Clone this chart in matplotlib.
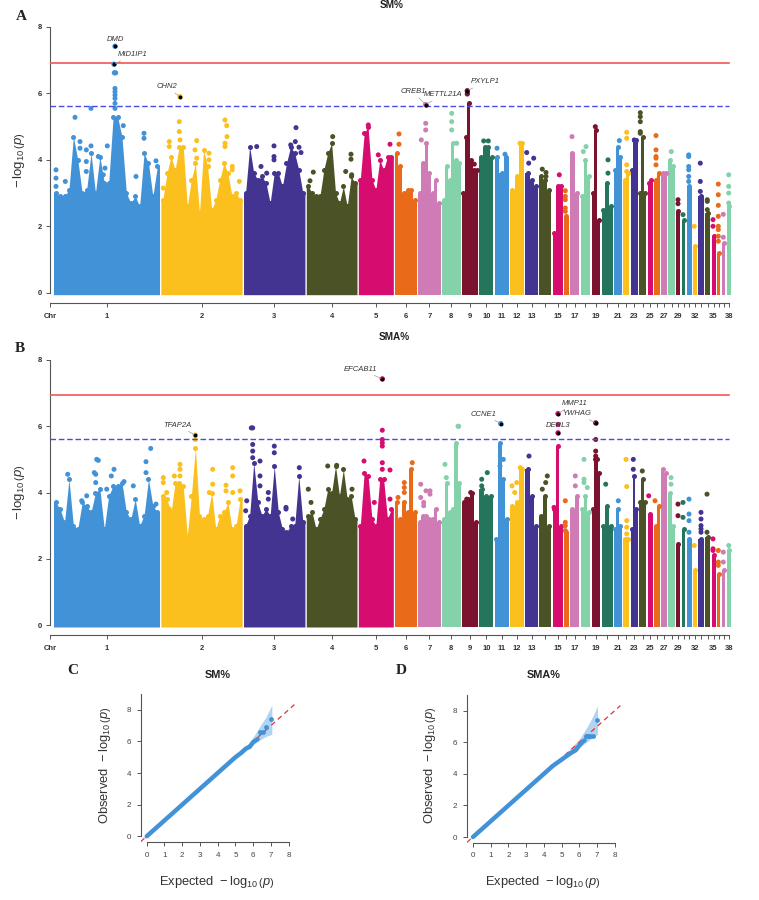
import matplotlib
matplotlib.use("Agg")
import matplotlib.pyplot as plt
import numpy as np

plt.rcParams["font.family"] = ["Liberation Sans", "DejaVu Sans"]
plt.rcParams["mathtext.fontset"] = "custom"
plt.rcParams["mathtext.rm"] = "Liberation Sans"
plt.rcParams["mathtext.it"] = "Liberation Sans:italic"

# chromosome lengths in plot units, palette repeats every ten chromosomes
chr_len = [106, 81.3, 61.4, 50.7, 35, 22, 22.6, 18.6, 16, 14, 14, 14, 12.7, 11.7, 10, 4.7, 9.3, 9.6, 8.6,
           11, 7.7, 6.3, 7, 7.3, 5, 6, 5.6, 6.7, 4, 3.7, 5, 3.6, 6, 4.7, 4, 3.6, 3.6, 4.3]
palette = ["#4292d8", "#fbc01e", "#433492", "#4b5226", "#d60d6e", "#e96a18", "#cf7cb6", "#84d2aa", "#7c132e", "#24755b"]
tick_names = ["1", "2", "3", "4", "5", "6", "7", "8", "9", "10", "11", "12", "13", "", "15", "", "17", "", "19", "",
              "21", "", "23", "", "25", "", "27", "", "29", "", "", "32", "", "", "35", "", "", "38"]

red_line = 6.93
blue_line = 5.63

# upper edge of the point cloud along each chromosome, SM%
sm1 = [3.0, 2.9, 2.9, 3.1, 4.7, 4.0, 3.0, 3.1, 4.2, 3.0, 4.1, 3.3, 3.3, 5.3, 5.3, 4.7, 3.0, 2.7, 2.9, 2.6, 4.2, 3.9, 2.9, 3.8]
sm2 = [2.8, 3.6, 4.1, 3.7, 4.4, 4.4, 2.6, 3.4, 3.9, 2.4, 4.3, 3.8, 2.5, 2.8, 3.4, 3.9, 3.6, 2.9, 3.0, 2.8]
sm3 = [3.0, 4.4, 3.6, 3.4, 3.5, 3.3, 2.7, 3.6, 3.6, 3.2, 3.9, 4.4, 4.2, 3.7, 3.0]
sm4 = [3.2, 3.0, 2.9, 2.9, 3.7, 4.2, 4.5, 3.0, 2.7, 3.2, 2.6, 3.5, 3.3]
sm5 = [3.4, 4.8, 5.0, 3.4, 3.1, 4.0, 3.7, 4.1, 4.1]
sm6 = [4.2, 3.8, 3.0, 3.1, 3.1, 2.8]
sm7 = [3.0, 3.9, 4.5, 3.6, 3.0, 3.4, 2.7]
sm8 = [2.8, 3.8, 3.4, 4.5, 4.0, 3.9]
sm9 = [3.0, 4.7, 5.7, 4.0, 3.7, 3.7]
sm10 = [4.1, 4.4, 4.4, 4.1]
sm11 = [4.1, 3.6, 4.1]
sm12 = [3.1, 3.5, 4.5]
sm13 = [3.6, 3.4, 3.2]
sm14 = [3.5, 3.4, 3.1]
sm15 = [1.8, 3.2, 3.2]
sm16 = [2.3]
sm17 = [4.2, 3.0]
sm18 = [2.9, 4.0, 3.5]
sm19 = [3.0, 4.9, 2.2]
sm20 = [2.5, 3.3, 2.6]
sm21 = [3.7, 4.4, 4.1]
sm22 = [3.4, 3.6]
sm23 = [3.7, 4.6, 4.6]
sm24 = [3.0, 4.7, 3.0]
sm25 = [3.3, 3.4]
sm26 = [3.4, 3.6]
sm27 = [3.6, 3.6]
sm28 = [4.0, 3.8]
sm29 = [2.45]
sm30 = [2.2]
sm31 = [3.2]
sm32 = [1.4]
sm33 = [2.9]
sm34 = [2.4]
sm35 = [1.7]
sm36 = [1.2]
sm37 = [1.5]
sm38 = [2.6]

# same for SMA%
sma1 = [3.7, 3.5, 3.1, 4.4, 3.0, 2.9, 3.7, 3.6, 3.4, 4.0, 4.1, 2.9, 3.9, 4.2, 4.2, 4.3, 3.4, 3.2, 3.8, 3.0, 3.3, 4.4, 3.6, 3.4]
sma2 = [3.9, 3.8, 3.4, 4.3, 4.3, 4.2, 2.7, 3.9, 5.35, 3.3, 3.2, 3.3, 4.0, 2.9, 3.3, 3.4, 3.7, 2.9, 3.0, 3.8]
sma3 = [3.0, 3.3, 4.9, 3.7, 3.3, 3.5, 3.3, 4.8, 3.4, 2.9, 2.8, 3.0, 3.0, 4.5, 3.1]
sma4 = [3.3, 3.4, 2.9, 3.2, 3.5, 4.1, 4.0, 4.8, 3.9, 4.7, 3.8, 3.9, 3.2]
sma5 = [3.0, 4.6, 4.5, 3.2, 3.0, 4.4, 4.4, 3.2, 3.5]
sma6 = [3.7, 3.2, 3.7, 3.4, 4.7, 3.4]
sma7 = [3.1, 3.3, 3.3, 3.2, 3.2, 3.5, 3.1]
sma8 = [3.2, 4.3, 3.4, 3.5, 5.5, 4.3]
sma9 = [3.7, 3.8, 4.0, 3.1]
sma10 = [4.1, 3.9, 3.9]
sma11 = [2.6, 5.5, 4.4, 3.2]
sma12 = [3.6, 3.7, 4.7]
sma13 = [4.7, 3.9, 3.0]
sma14 = [3.3, 3.9, 3.0]
sma15 = [3.5, 5.4, 3.0]
sma16 = [2.8]
sma17 = [3.5, 3.9]
sma18 = [3.5, 3.9, 3.4]
sma19 = [3.5, 5.0, 5.0, 4.6]
sma20 = [3.0, 3.6, 3.0]
sma21 = [2.9, 3.5, 3.0]
sma22 = [2.6, 2.6]
sma23 = [2.9, 4.5, 3.5]
sma24 = [3.7, 4.4, 3.7]
sma25 = [3.35]
sma26 = [3.0, 3.6]
sma27 = [4.7, 4.6]
sma28 = [4.0, 3.0]
sma29 = [2.45]
sma30 = [2.9]
sma31 = [2.6]
sma32 = [1.65]
sma33 = [2.6]
sma34 = [2.65]
sma35 = [2.1]
sma36 = [1.55]
sma37 = [1.65]
sma38 = [2.25]

# single points standing above the cloud: genome position, value
sm_pos = [5.5, 5.5, 5.5, 14.8, 24.5, 29.5, 29.5, 35.8, 35.8, 35.8, 40.5, 40.5, 47.8, 56.8, 54.5, 52.8,
          64.5, 64.5, 64.5, 64.5, 64.5, 64.5, 64.5, 63.8, 65.2, 72.8, 93.5, 93.5, 105.5, 85.5,
          112.8, 118.8, 118.8, 128.8, 128.8, 129.5, 144.5, 146.2, 146.2, 158.5, 158.5, 174.5, 176.2, 176.5, 174.5, 174.5,
          181.8, 181.8, 188.8, 245.5, 223.5, 223.5, 223.5, 240.2, 244.8, 248.5, 250.5, 206.2, 210.5, 216.2,
          282.2, 262.8, 259.5, 300.5, 300.5, 295.2, 301.2, 317.8, 327.8, 339.5, 348.5, 348.5, 375.2, 375.2, 370.8,
          401.2, 401.2, 401.2, 406.2, 416.8, 416.8, 423.8, 433.2, 437.8, 446.5, 454.5, 469.5, 476.2, 478.2, 483.2,
          491.8, 495.5, 495.5, 508.8, 514.8, 514.8, 514.8, 514.8, 514.8, 521.5, 532.8, 535.5, 544.8, 557.5, 557.5,
          568.8, 576.2, 576.2, 576.2, 576.2, 583.8, 589.8, 589.8, 589.8, 589.8, 589.8,
          605.5, 605.5, 605.5, 605.5, 605.5, 620.8, 627.5, 627.5, 632.5,
          638.2, 638.2, 638.2, 638.2, 638.2, 638.2, 643.8, 649.8, 649.8, 649.8, 656.8, 656.8, 656.8, 662.5, 662.5,
          667.8, 667.8, 667.8, 667.8, 667.8, 667.8, 667.8, 667.8, 672.8, 672.8, 678.2, 678.2, 678.2, 678.2]
sm_val = [3.7, 3.45, 3.2, 3.35, 5.28, 4.55, 4.35, 4.3, 3.95, 3.65, 5.55, 4.42, 4.1, 4.42, 3.75, 3.55,
          6.62, 6.15, 6.05, 5.95, 5.85, 5.7, 5.55, 6.62, 6.62, 5.03, 4.8, 4.65, 3.97, 3.5,
          3.15, 4.55, 4.4, 5.15, 4.85, 4.6, 4.3, 4.58, 4.05, 4.2, 4.0, 5.2, 5.03, 4.7, 4.5, 4.4,
          3.8, 3.7, 3.35, 4.97, 4.42, 4.1, 4.0, 4.45, 4.55, 4.38, 4.22, 4.4, 3.8, 3.6,
          4.7, 3.63, 3.37, 4.17, 4.02, 3.65, 3.55, 5.05, 4.15, 4.47, 4.78, 4.47, 5.1, 4.9, 4.6,
          5.4, 5.15, 4.9, 4.5, 6.0, 5.98, 3.87, 4.57, 4.57, 4.35, 4.17, 4.5, 4.22, 3.9, 4.05,
          3.72, 3.62, 3.5, 3.55, 3.07, 2.9, 2.8, 2.55, 2.45, 4.7, 4.25, 4.4, 5.0, 4.0, 3.6,
          4.58, 4.83, 4.65, 3.85, 3.65, 4.6, 5.42, 5.3, 5.15, 4.85, 4.8,
          4.73, 4.3, 4.1, 4.05, 3.85, 4.25, 2.8, 2.68, 2.35,
          4.15, 4.1, 3.8, 3.7, 3.5, 3.35, 2.0, 3.9, 3.35, 3.05, 2.8, 2.75, 2.5, 2.2, 2.0,
          3.27, 2.95, 2.63, 2.3, 2.0, 1.9, 1.7, 1.55, 2.36, 1.67, 3.55, 3.2, 3.0, 2.7]

sma_pos = [46.2, 47.8, 43.8, 45.2, 45.2, 63.5, 60.8, 73.5, 82.8, 95.5, 95.5, 100.2, 17.2, 56.2, 105.5, 31.2, 36.2,
           112.8, 112.8, 116.2, 123.8, 129.5, 129.5, 129.5, 162.2, 162.2, 158.8, 182.2, 182.2, 182.2, 189.5, 175.5, 175.5,
           144.8, 118.8, 200.8, 202.2, 202.2, 202.2, 202.2, 209.5, 209.5, 209.5, 217.8, 217.8, 223.8, 223.8, 235.5, 235.5,
           242.2, 248.8, 196.2, 195.2, 257.8, 277.2, 286.2, 301.5, 260.5, 313.5, 323.8,
           331.8, 331.8, 331.8, 331.8, 331.8, 331.8, 339.5, 339.5, 347.5, 353.8, 353.8, 353.8, 361.8,
           370.2, 370.2, 375.5, 379.5, 379.5, 373.2, 373.2, 394.5, 407.5, 408.2, 395.8, 416.2, 420.2,
           431.2, 431.2, 436.8, 452.8, 449.5, 461.5, 466.2, 469.8, 464.2, 478.5, 491.8, 495.2, 496.8, 507.5, 503.5,
           514.8, 514.8, 514.8, 514.8, 524.8, 524.8, 533.5, 533.5, 533.5, 536.8, 545.2, 545.2, 545.2, 555.2, 567.8,
           575.5, 576.2, 576.2, 576.2, 576.2, 582.8, 582.8, 591.8, 598.2, 604.5, 620.5, 620.5, 627.5, 627.5, 632.5, 632.5,
           638.5, 638.5, 638.5, 638.5, 643.8, 650.5, 650.5, 650.5, 650.5, 650.5, 656.5, 656.5,
           662.5, 662.5, 662.5, 667.8, 667.8, 667.8, 672.8, 672.8, 678.2]
sma_val = [5.0, 4.97, 4.6, 4.55, 4.3, 4.7, 4.5, 4.33, 4.2, 4.93, 4.6, 5.33, 4.55, 4.1, 3.65, 3.75, 3.9,
           4.45, 4.3, 4.0, 4.5, 4.85, 4.7, 4.5, 4.7, 4.25, 4.0, 4.75, 4.5, 4.0, 4.05, 4.22, 4.05,
           5.6, 3.5, 5.95, 5.95, 5.45, 5.25, 5.05, 4.95, 4.5, 4.2, 4.0, 3.8, 5.4, 5.2, 3.55, 3.5,
           3.2, 4.75, 3.75, 3.45, 4.1, 4.8, 4.82, 4.1, 3.7, 4.95, 3.7,
           5.88, 5.6, 5.5, 5.4, 4.9, 4.7, 4.68, 3.8, 3.85, 4.3, 4.15, 4.0, 4.9,
           4.25, 3.85, 4.05, 4.05, 3.95, 3.7, 3.6, 4.85, 6.0, 6.0, 4.45, 3.8, 4.0,
           4.4, 4.2, 4.6, 5.0, 4.8, 4.2, 4.3, 4.75, 4.0, 5.1, 4.1, 4.3, 4.5, 6.05, 3.55,
           3.75, 3.1, 3.0, 2.85, 4.5, 4.2, 5.0, 4.4, 4.3, 4.15, 5.6, 5.25, 5.1, 4.25, 3.75,
           5.0, 4.18, 3.15, 2.95, 2.75, 5.0, 4.7, 4.65, 3.9, 3.75, 4.45, 4.25, 3.65, 3.3, 3.7, 3.25,
           3.8, 3.35, 3.15, 2.8, 2.4, 3.4, 3.2, 3.0, 2.9, 2.8, 3.95, 2.8,
           2.6, 2.3, 2.25, 2.25, 1.9, 1.8, 2.2, 1.9, 2.4]

# named genes
sm_genes = ["DMD", "MID1IP1", "CHN2", "CREB1", "METTL21A", "PXYLP1"]
sm_gene_pos = [64.5, 63.5, 129.5, 375.2, 375.2, 416.8]
sm_gene_val = [7.42, 6.88, 5.9, 5.66, 5.66, 6.08]
sm_gene_off = [(0, 6.7, False), (19, 9.5, True), (-13.5, 10, True), (-12.7, 13, True), (17.3, 10, True), (17.7, 9, True)]

sma_genes = ["EFCAB11", "TFAP2A", "CCNE1", "MMP11", "YWHAG", "DERL3"]
sma_gene_pos = [331.8, 144.8, 450.2, 507.5, 545.2, 507.5]
sma_gene_val = [7.43, 5.73, 6.08, 6.38, 6.1, 5.8]
sma_gene_off = [(-22.3, 9.7, True), (-18, 10, True), (-17, 9.5, True), (16.7, 10.5, True), (-18.7, 9.5, True), (0, 7.3, False)]

# QQ curves
qq_sm_exp = [0, 0.5, 1, 1.5, 2, 2.5, 3, 3.5, 4, 4.5, 5, 5.3, 5.6, 5.8, 6.0, 6.2, 6.25]
qq_sm_obs = [0, 0.5, 1, 1.5, 2, 2.5, 3, 3.5, 4, 4.5, 5, 5.25, 5.55, 5.65, 5.95, 6.1, 6.15]
qq_sm_tail_exp = [6.4, 6.55, 6.7, 7.0]
qq_sm_tail_obs = [6.62, 6.62, 6.88, 7.42]
band_sm_exp = [5.4, 5.8, 6.1, 6.4, 6.7, 7.05]
band_sm_up = [5.45, 5.95, 6.45, 7.0, 7.5, 8.3]
band_sm_lo = [5.35, 5.65, 5.9, 6.1, 6.3, 6.45]

qq_sma_exp = [0, 0.5, 1, 1.5, 2, 2.5, 3, 3.5, 4, 4.5, 5, 5.5, 5.8, 6.0, 6.2, 6.3]
qq_sma_obs = [0, 0.5, 1, 1.5, 2, 2.5, 3, 3.5, 4, 4.5, 4.9, 5.3, 5.5, 5.8, 6.05, 6.12]
qq_sma_tail_exp = [6.4, 6.5, 6.6, 6.75, 7.0]
qq_sma_tail_obs = [6.38, 6.38, 6.38, 6.38, 7.43]
band_sma_exp = [5.3, 5.7, 6.03, 6.4, 6.7, 7.03]
band_sma_up = [5.35, 5.85, 6.25, 6.9, 7.5, 8.3]
band_sma_lo = [5.25, 5.45, 5.7, 6.0, 6.25, 6.5]

sm_tops = [sm1, sm2, sm3, sm4, sm5, sm6, sm7, sm8, sm9, sm10, sm11, sm12, sm13, sm14, sm15, sm16, sm17, sm18, sm19,
           sm20, sm21, sm22, sm23, sm24, sm25, sm26, sm27, sm28, sm29, sm30, sm31, sm32, sm33, sm34, sm35, sm36, sm37, sm38]
sma_tops = [sma1, sma2, sma3, sma4, sma5, sma6, sma7, sma8, sma9, sma10, sma11, sma12, sma13, sma14, sma15, sma16,
            sma17, sma18, sma19, sma20, sma21, sma22, sma23, sma24, sma25, sma26, sma27, sma28, sma29, sma30, sma31,
            sma32, sma33, sma34, sma35, sma36, sma37, sma38]

W, H = 759, 900
fig = plt.figure(figsize=(W / 100, H / 100), dpi=100)
lengths = np.array(chr_len)
starts = 3 + np.concatenate([[0], np.cumsum(lengths[:-1] + 1.36)])
centres = starts + lengths / 2
axis_col = "#555555"


def px_axes(left, right, top, bottom):
    return fig.add_axes([left / W, 1 - bottom / H, (right - left) / W, (bottom - top) / H])


def manhattan(y0_px, y8_px, axis_px, tops, pos, val, genes, gene_pos, gene_val, gene_off):
    unit = (y0_px - y8_px) / 8
    top_px = y8_px - 6
    ax = px_axes(50.5, 740, top_px, axis_px)
    ax.set_xlim(0, 689.5)
    ax.set_ylim((y0_px - axis_px) / unit, (y0_px - top_px) / unit)
    for i, t in enumerate(tops):
        col = palette[i % 10]
        n = len(t)
        bw = lengths[i] / n
        xs = starts[i] + bw * (np.arange(n) + 0.5)
        t = np.array(t)
        if i < 5:
            # big chromosomes: outline runs through the tops, flat out to the ends
            edge_x = np.concatenate([[starts[i]], xs, [starts[i] + lengths[i]]])
            edge_y = np.concatenate([[t[0]], t, [t[-1]]])
            ax.fill_between(edge_x, -0.06, edge_y, color=col, linewidth=0, zorder=1)
        else:
            # small ones read as columns
            ax.bar(xs, t + 0.06, width=bw, bottom=-0.06, color=col, linewidth=0, zorder=1)
        ax.scatter(xs, t, s=13, color=col, linewidths=0, zorder=2)
    pos = np.array(pos)
    owner = np.searchsorted(starts, pos) - 1
    ax.scatter(pos, val, s=13, c=[palette[k % 10] for k in owner], linewidths=0, zorder=2)
    end = centres[-1]
    ax.plot([0, end], [red_line, red_line], color="#f25555", lw=1.2, zorder=3)
    ax.plot([0, end], [blue_line, blue_line], color="#4a4ae6", lw=1.0, ls=(0, (4, 2)), zorder=3)
    # highlighted genes
    gene_pos = np.array(gene_pos)
    owner = np.searchsorted(starts, gene_pos) - 1
    ax.scatter(gene_pos, gene_val, s=15, c=[palette[k % 10] for k in owner], linewidths=0, zorder=4)
    ax.scatter(gene_pos, gene_val, s=8, color="black", linewidths=0, zorder=5)
    for g, x, y, off in zip(genes, gene_pos, gene_val, gene_off):
        arrow = dict(arrowstyle="-", color="#999999", lw=0.5, shrinkA=0, shrinkB=1) if off[2] else None
        ax.annotate(g, xy=(x, y), xytext=(off[0], off[1]), textcoords="offset pixels", fontsize=5.5, style="italic",
                    color="#333333", ha="center", va="center", arrowprops=arrow, zorder=6)
    for s in ["top", "right"]:
        ax.spines[s].set_visible(False)
    ax.spines["left"].set_bounds(0, 8)
    ax.spines["bottom"].set_bounds(0, end)
    for s in ["left", "bottom"]:
        ax.spines[s].set_color(axis_col)
        ax.spines[s].set_linewidth(0.8)
    ax.set_yticks([0, 2, 4, 6, 8])
    ax.set_xticks(np.concatenate([[0], centres]))
    ax.set_xticklabels(["Chr"] + tick_names)
    ax.tick_params(axis="both", length=3, width=0.7, color=axis_col, labelsize=5.5, labelcolor="#333333", pad=4)
    ax.tick_params(axis="y", pad=3)
    for lb in ax.get_xticklabels() + ax.get_yticklabels():
        lb.set_fontweight("bold")
    fig.text(19 / W, 1 - (y0_px + y8_px) / 2 / H, r"$-\,\log_{10}\left(p\right)$", rotation=90, fontsize=9.5,
             color="#333333", ha="center", va="center")
    return ax


def qq(x0, x8, y0, y8, spine_x, spine_y, exp, obs, tail_exp, tail_obs, band_x, band_up, band_lo, title, title_x, lab_x, ylab_x):
    ux = (x8 - x0) / 8
    uy = (y0 - y8) / 8
    ax = px_axes(spine_x, x8 + 10, y8 - 20, spine_y)
    ax.set_xlim((spine_x - x0) / ux, (x8 + 10 - x0) / ux)
    ax.set_ylim((y0 - spine_y) / uy, (y0 - y8 + 20) / uy)
    ax.fill_between(band_x, band_lo, band_up, color="#a9d0f0", linewidth=0, alpha=0.9, zorder=1)
    ax.plot([-0.34, 8.32], [-0.34, 8.32], color="#e0323c", lw=0.9, ls=(0, (4, 3)), zorder=2)
    ax.plot(exp, obs, color="#4292d8", lw=3.2, solid_capstyle="round", zorder=3)
    ax.scatter(tail_exp, tail_obs, s=12, color="#4292d8", linewidths=0, zorder=3)
    for s in ["top", "right"]:
        ax.spines[s].set_visible(False)
    ax.spines["left"].set_bounds(0, 9)
    ax.spines["bottom"].set_bounds(0, 8)
    for s in ["left", "bottom"]:
        ax.spines[s].set_color("#555555")
        ax.spines[s].set_linewidth(0.8)
    ax.set_xticks(range(9))
    ax.set_yticks([0, 2, 4, 6, 8])
    ax.tick_params(axis="both", length=3, width=0.7, color="#555555", labelsize=5.8, labelcolor="#444444", pad=4)
    fig.text(title_x / W, 1 - 674.5 / H, title, fontsize=7.8, fontweight="bold", color="#222222", ha="center", va="center")
    fig.text(lab_x / W, 1 - 882 / H, r"Expected  $-\,\log_{10}\left(p\right)$", fontsize=9.3, color="#333333", ha="center", va="center")
    fig.text(ylab_x / W, 1 - 765 / H, r"Observed  $-\,\log_{10}\left(p\right)$", fontsize=9.3, color="#333333", rotation=90,
             ha="center", va="center")


manhattan(292.7, 27, 303, sm_tops, sm_pos, sm_val, sm_genes, sm_gene_pos, sm_gene_val, sm_gene_off)
manhattan(625, 360, 635, sma_tops, sma_pos, sma_val, sma_genes, sma_gene_pos, sma_gene_val, sma_gene_off)
qq(146.7, 288.7, 836.3, 709.7, 140.7, 842.3, qq_sm_exp, qq_sm_obs, qq_sm_tail_exp, qq_sm_tail_obs,
   band_sm_exp, band_sm_up, band_sm_lo, "SM%", 218, 217, 105)
qq(473, 614.7, 837, 710.7, 467.3, 842.7, qq_sma_exp, qq_sma_obs, qq_sma_tail_exp, qq_sma_tail_obs,
   band_sma_exp, band_sma_up, band_sma_lo, "SMA%", 543.7, 543, 430)

# panel titles and letters
fig.text(392 / W, 1 - 5 / H, "SM%", fontsize=7.2, fontweight="bold", color="#222222", ha="center", va="center")
fig.text(394 / W, 1 - 337 / H, "SMA%", fontsize=7.2, fontweight="bold", color="#222222", ha="center", va="center")
for letter, x, y in [("A", 21, 17), ("B", 20, 349), ("C", 73, 671), ("D", 401, 671)]:
    fig.text(x / W, 1 - y / H, letter, fontsize=11, fontweight="bold", family="Liberation Serif", color="#222222",
             ha="center", va="center")

fig.savefig("out.png", dpi=100)
